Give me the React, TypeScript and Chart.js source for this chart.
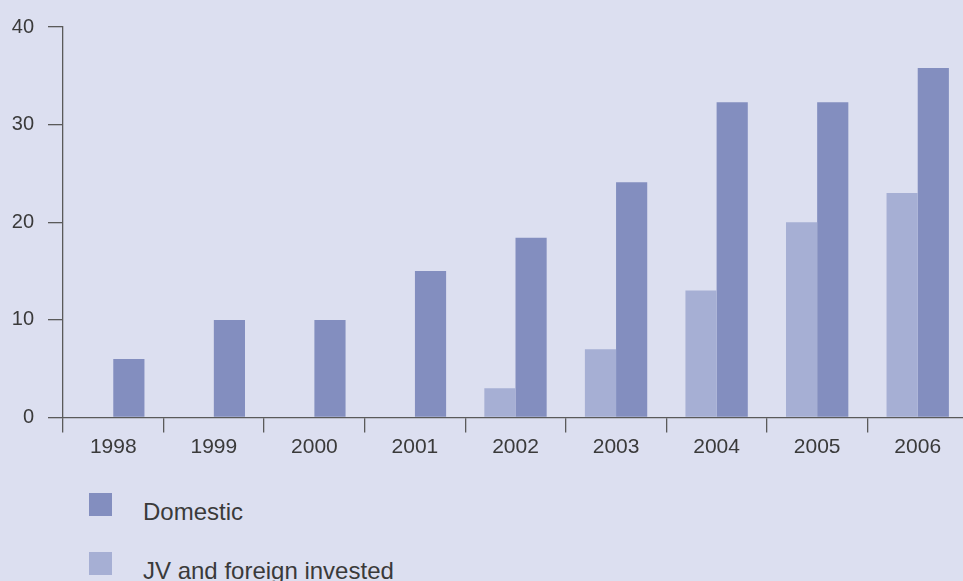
import React, { useEffect, useRef } from "react";
import { Chart, registerables } from "chart.js";

Chart.register(...registerables);

const categories = ["1998", "1999", "2000", "2001", "2002", "2003", "2004", "2005", "2006"];
const domesticValues = [6, 10, 10, 15, 18.4, 24.1, 32.3, 32.3, 35.8];
const jvValues = [0, 0, 0, 0, 3, 7, 13, 20, 23];
const yTicks = [0, 10, 20, 30, 40];

const BG = "#dcdff0";
const DOMESTIC = "#838ebf";
const JV = "#a6afd4";
const AXIS = "#5a5a5a";
const TEXT = "#3a3a3a";
const FONT = "'Liberation Sans', Arial, Helvetica, sans-serif";

export default function App() {
  const ref = useRef<HTMLCanvasElement | null>(null);

  useEffect(() => {
    const canvas = ref.current;
    if (!canvas) return;
    const chart = new Chart(canvas, {
      type: "bar",
      data: {
        labels: categories,
        datasets: [
          {
            label: "JV and foreign invested",
            data: jvValues,
            backgroundColor: JV,
            borderWidth: 0,
            categoryPercentage: 0.62,
            barPercentage: 1.0,
          },
          {
            label: "Domestic",
            data: domesticValues,
            backgroundColor: DOMESTIC,
            borderWidth: 0,
            categoryPercentage: 0.62,
            barPercentage: 1.0,
          },
        ],
      },
      options: {
        responsive: false,
        animation: false,
        devicePixelRatio: 1,
        layout: { padding: { left: 0, right: 0, top: 27, bottom: 0 } },
        plugins: {
          legend: { display: false },
          tooltip: { enabled: false },
        },
        scales: {
          x: {
            offset: true,
            grid: {
              offset: true,
              drawOnChartArea: false,
              drawTicks: true,
              tickLength: 15,
              tickColor: AXIS,
              lineWidth: 1.3,
            },
            border: { display: true, color: AXIS, width: 1.3 },
            ticks: {
              color: TEXT,
              font: { family: FONT, size: 21 },
              padding: 2,
              maxRotation: 0,
            },
            afterFit: (s: any) => {
              s.height = 52.5;
            },
          },
          y: {
            min: 0,
            max: 40,
            afterBuildTicks: (s: any) => {
              s.ticks = yTicks.map((v) => ({ value: v }));
            },
            grid: {
              drawOnChartArea: false,
              drawTicks: true,
              tickLength: 15,
              tickColor: AXIS,
              lineWidth: 1.3,
            },
            border: { display: true, color: AXIS, width: 1.3 },
            ticks: {
              color: TEXT,
              font: { family: FONT, size: 20 },
              padding: 14,
            },
            afterFit: (s: any) => {
              s.width = 63;
            },
          },
        },
      },
    });
    return () => chart.destroy();
  }, []);

  const legendItems = [
    { label: "Domestic", color: DOMESTIC, top: 493 },
    { label: "JV and foreign invested", color: JV, top: 552 },
  ];

  return (
    <div
      style={{
        position: "fixed",
        left: 0,
        top: 0,
        width: 963,
        height: 581,
        overflow: "hidden",
        background: BG,
      }}
    >
      <canvas
        ref={ref}
        width={968}
        height={470}
        style={{ position: "absolute", left: 0, top: 0, width: 968, height: 470 }}
      />
      {legendItems.map((it) => (
        <div key={it.label}>
          <div
            style={{
              position: "absolute",
              left: 89,
              top: it.top,
              width: 23,
              height: 23,
              background: it.color,
            }}
          />
          <div
            style={{
              position: "absolute",
              left: 143,
              top: it.top + 19 - 14,
              height: 28,
              lineHeight: "28px",
              fontFamily: FONT,
              fontSize: 24,
              color: TEXT,
              whiteSpace: "nowrap",
            }}
          >
            {it.label}
          </div>
        </div>
      ))}
    </div>
  );
}
